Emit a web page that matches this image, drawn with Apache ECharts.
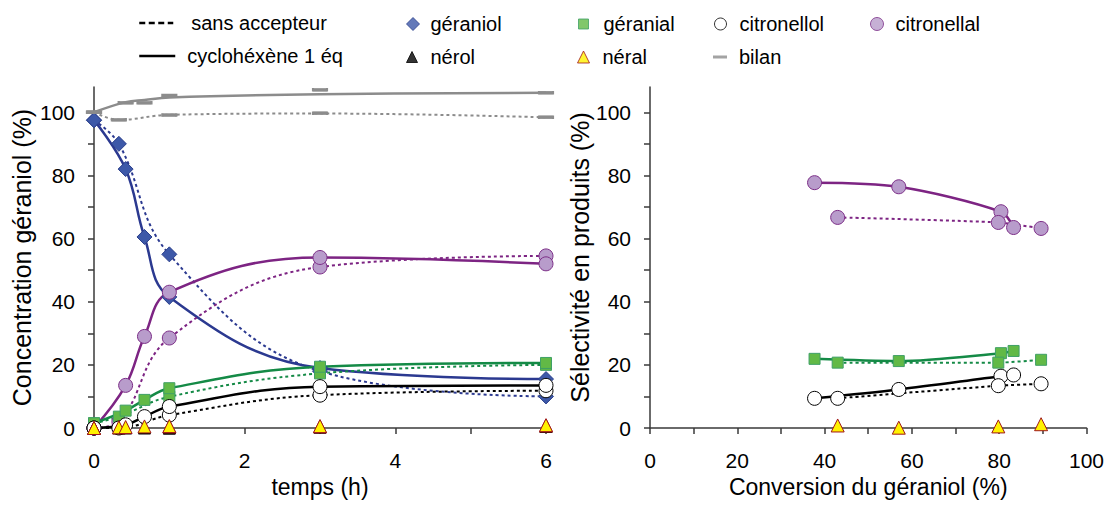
<!DOCTYPE html>
<html><head><meta charset="utf-8">
<script src="https://cdn.jsdelivr.net/npm/echarts@6/dist/echarts.min.js"></script>
<style>html,body{margin:0;padding:0;background:#fff}#c{width:1107px;height:507px}</style>
</head><body><div id="c"></div>
<script>
// ---------- Left panel: concentration vs time ----------
const timeSansAccepteur = [0, 0.33, 1, 3, 6];
const timeCyclohexene   = [0, 0.42, 0.67, 1, 3, 6];

const geraniolSA    = [97.5, 90, 55, 18, 10];
const geraniolCY    = [97.5, 82, 60.5, 41.5, 19, 15.5];
const citronellalSA = [0, 2, 28.5, 51, 54.5];
const citronellalCY = [0, 13.5, 29, 43, 54, 52];
const geranialSA    = [1.5, 3.6, 9.9, 17.3, 20];
const geranialCY    = [1.5, 5.5, 8.9, 12.6, 19.4, 20.6];
const citronellolSA = [0, 0, 4.1, 10.4, 11.8];
const citronellolCY = [0, 1, 3.6, 6.8, 13.1, 13.5];
const nerolSA       = [0, 0, 0, 0.3, 0.5];
const nerolCY       = [0, 0, 0, 0, 0.3, 0.5];
const neralSA       = [0, 0.2, 0.5, 0.5, 0.8];
const neralCY       = [0, 0.3, 0.5, 0.6, 0.6, 0.9];
const bilanSA       = [100, 97.6, 99.1, 99.7, 98.4];
const bilanCY       = [100, 103, 103, 105.3, 107.1, 106.2];
const bilanCurveSA  = [100, 97.6, 99.2, 99.6, 98.4];
const bilanCurveCY  = [100, 103.2, 103.9, 104.7, 105.7, 106.2];

// ---------- Right panel: selectivity vs conversion ----------
const convCY = [37.7, 57, 80.4, 83.3];
const convSA = [43, 79.8, 89.6];
const selCitronellalCY = [77.7, 76.4, 68.5, 63.5];
const selCitronellalSA = [66.7, 65.1, 63.2];
const selGeranialCY    = [21.9, 21.2, 23.7, 24.4];
const selGeranialSA    = [20.7, 20.7, 21.6];
const selCitronellolCY = [9.4, 12.2, 16.4, 16.8];
const selCitronellolSA = [9.4, 13.4, 14.0];
const selNeralCY       = [null, 0.1, null, null];
const selNeralSA       = [0.8, 0.5, 1.2];

// ---------- Tick values / labels ----------
const leftXTicks   = [0, 1, 2, 3, 4, 5, 6];
const leftXLabels  = [0, 2, 4, 6];
const yTicks       = [0, 10, 20, 30, 40, 50, 60, 70, 80, 90, 100];
const yLabels      = [0, 20, 40, 60, 80, 100];
const rightXTicks  = [0, 10, 20, 30, 40, 50, 60, 70, 80, 90, 100];
const rightXLabels = [0, 20, 40, 60, 80, 100];

// ---------- Styles ----------
const FONT = 'Liberation Sans';
const AX = '#3a3a3a';
const sty = {
  geraniol:    {line: '#2B3990', symbol: 'diamond',  size: 15, fill: '#3D58A8', border: '#2B3F8C'},
  citronellal: {line: '#7D2483', symbol: 'circle',   size: 14, fill: '#B89CCB', border: '#7D2F88'},
  geranial:    {line: '#148A46', symbol: 'rect',     size: 11, fill: '#62B946', border: '#3FA066'},
  citronellol: {line: '#000000', symbol: 'circle',   size: 14, fill: '#FFFFFF', border: '#000000'},
  nerol:       {line: '#000000', symbol: 'triangle', size: 12, fill: '#000000', border: '#000000'},
  neral:       {line: '#A0161B', symbol: 'triangle', size: 13, fill: '#FFF200', border: '#A0161B'},
  bilan:       {line: '#8C8C8C', symbol: 'rect',     size: [14, 3], fill: '#8C8C8C', border: '#8C8C8C'}
};

const pts = (xs, ys) => xs.map((x, i) => [x, ys[i]]).filter(p => p[1] !== null);

function lineS(name, gi, xs, ys, key, dotted, smooth) {
  return {
    name, type: 'line', xAxisIndex: gi, yAxisIndex: gi, data: pts(xs, ys),
    symbol: 'none', showSymbol: false, smooth: smooth, z: 2, silent: true,
    lineStyle: {color: sty[key].line, width: dotted ? 2 : 2.5, type: dotted ? [3, 3] : 'solid', cap: 'butt'}
  };
}
function markS(name, gi, xs, ys, key) {
  const s = sty[key];
  return {
    name, type: 'scatter', xAxisIndex: gi, yAxisIndex: gi, data: pts(xs, ys),
    symbol: s.symbol, symbolSize: s.size, z: 3, silent: true,
    itemStyle: {color: s.fill, borderColor: s.border, borderWidth: 1, opacity: 1}
  };
}
function dummyMark(name, key) {
  const s = sty[key];
  return {name, type: 'scatter', xAxisIndex: 0, yAxisIndex: 0, data: [], symbol: s.symbol,
          itemStyle: {color: s.fill, borderColor: s.border, borderWidth: 1}};
}

const series = [
  {name: 'sans accepteur', type: 'line', xAxisIndex: 0, yAxisIndex: 0, data: [], symbol: 'none',
   itemStyle: {color: 'rgba(0,0,0,0)', opacity: 0},
   lineStyle: {color: '#000', width: 2.5, type: [6, 3.5]}},
  {name: 'cyclohéxène 1 éq', type: 'line', xAxisIndex: 0, yAxisIndex: 0, data: [], symbol: 'none',
   itemStyle: {color: 'rgba(0,0,0,0)', opacity: 0},
   lineStyle: {color: '#000', width: 2.5, type: 'solid'}},
  dummyMark('géraniol', 'geraniol'), dummyMark('nérol', 'nerol'),
  dummyMark('géranial', 'geranial'), dummyMark('néral', 'neral'),
  dummyMark('citronellol', 'citronellol'), dummyMark('citronellal', 'citronellal'),
  {name: 'bilan', type: 'scatter', xAxisIndex: 0, yAxisIndex: 0, data: [], symbol: 'rect',
   itemStyle: {color: sty.bilan.fill}},

  // left lines
  lineS('bilan SA', 0, timeSansAccepteur, bilanCurveSA, 'bilan', true, 0.4),
  lineS('bilan CY', 0, timeCyclohexene, bilanCurveCY, 'bilan', false, 0.4),
  lineS('géraniol SA', 0, timeSansAccepteur, geraniolSA, 'geraniol', true, 0.4),
  lineS('géraniol CY', 0, timeCyclohexene, geraniolCY, 'geraniol', false, 0.4),
  lineS('citronellal SA', 0, timeSansAccepteur, citronellalSA, 'citronellal', true, 0.4),
  lineS('citronellal CY', 0, timeCyclohexene, citronellalCY, 'citronellal', false, 0.4),
  lineS('géranial SA', 0, timeSansAccepteur, geranialSA, 'geranial', true, 0.4),
  lineS('géranial CY', 0, timeCyclohexene, geranialCY, 'geranial', false, 0.4),
  lineS('citronellol SA', 0, timeSansAccepteur, citronellolSA, 'citronellol', true, 0.4),
  lineS('citronellol CY', 0, timeCyclohexene, citronellolCY, 'citronellol', false, 0.4),
  // left markers
  markS('géraniol SA m', 0, timeSansAccepteur, geraniolSA, 'geraniol'),
  markS('géraniol CY m', 0, timeCyclohexene, geraniolCY, 'geraniol'),
  markS('citronellal SA m', 0, timeSansAccepteur, citronellalSA, 'citronellal'),
  markS('citronellal CY m', 0, timeCyclohexene, citronellalCY, 'citronellal'),
  markS('géranial SA m', 0, timeSansAccepteur, geranialSA, 'geranial'),
  markS('géranial CY m', 0, timeCyclohexene, geranialCY, 'geranial'),
  markS('citronellol SA m', 0, timeSansAccepteur, citronellolSA, 'citronellol'),
  markS('citronellol CY m', 0, timeCyclohexene, citronellolCY, 'citronellol'),
  markS('nérol SA m', 0, timeSansAccepteur, nerolSA, 'nerol'),
  markS('nérol CY m', 0, timeCyclohexene, nerolCY, 'nerol'),
  markS('néral SA m', 0, timeSansAccepteur, neralSA, 'neral'),
  markS('néral CY m', 0, timeCyclohexene, neralCY, 'neral'),
  markS('bilan SA m', 0, timeSansAccepteur, bilanSA, 'bilan'),
  markS('bilan CY m', 0, timeCyclohexene, bilanCY, 'bilan'),

  // right lines
  lineS('sel citronellal CY', 1, convCY, selCitronellalCY, 'citronellal', false, 0.3),
  lineS('sel citronellal SA', 1, convSA, selCitronellalSA, 'citronellal', true, 0.2),
  lineS('sel géranial CY', 1, convCY, selGeranialCY, 'geranial', false, 0.3),
  lineS('sel géranial SA', 1, convSA, selGeranialSA, 'geranial', true, 0.2),
  lineS('sel citronellol CY', 1, convCY, selCitronellolCY, 'citronellol', false, 0.3),
  lineS('sel citronellol SA', 1, convSA, selCitronellolSA, 'citronellol', true, 0.2),
  // right markers
  markS('sel citronellal CY m', 1, convCY, selCitronellalCY, 'citronellal'),
  markS('sel citronellal SA m', 1, convSA, selCitronellalSA, 'citronellal'),
  markS('sel géranial CY m', 1, convCY, selGeranialCY, 'geranial'),
  markS('sel géranial SA m', 1, convSA, selGeranialSA, 'geranial'),
  markS('sel citronellol CY m', 1, convCY, selCitronellolCY, 'citronellol'),
  markS('sel citronellol SA m', 1, convSA, selCitronellolSA, 'citronellol'),
  markS('sel néral CY m', 1, convCY, selNeralCY, 'neral'),
  markS('sel néral SA m', 1, convSA, selNeralSA, 'neral')
];

// ---------- Legend layout (one legend component per entry) ----------
const legendLayout = [
  {name: 'sans accepteur',   left: 138, cy: 23, w: 34, h: 14, textX: 190, lineOnly: true},
  {name: 'cyclohéxène 1 éq', left: 138, cy: 56, w: 36, h: 14, textX: 186, lineOnly: true},
  {name: 'géraniol',    icon: 'diamond',  left: 406, cy: 24, w: 13, h: 13, textX: 430},
  {name: 'nérol',       icon: 'triangle', left: 406, cy: 57, w: 11, h: 11, textX: 430},
  {name: 'géranial',    icon: 'rect',     left: 578, cy: 24, w: 10, h: 10, textX: 603},
  {name: 'néral',       icon: 'triangle', left: 577, cy: 57, w: 12, h: 12, textX: 602},
  {name: 'citronellol', icon: 'circle',   left: 714, cy: 24, w: 12, h: 12, textX: 739},
  {name: 'bilan',       icon: 'rect',     left: 713, cy: 57, w: 14, h: 3,  textX: 739},
  {name: 'citronellal', icon: 'circle',   left: 870, cy: 24, w: 13, h: 13, textX: 895}
];
const legends = legendLayout.map(l => ({
  left: l.left, top: l.cy - 10, padding: 0, itemGap: 0, selectedMode: false,
  itemWidth: l.w, itemHeight: l.h,
  lineStyle: {width: 2.5},
  itemStyle: l.lineOnly ? {color: 'rgba(0,0,0,0)', borderColor: 'rgba(0,0,0,0)', borderWidth: 0, opacity: 0}
                        : {borderWidth: 1},
  textStyle: {fontFamily: FONT, fontSize: 20, color: '#000', lineHeight: 20,
              padding: [0, 0, 0, Math.max(0, l.textX - l.left - l.w - 5)]},
  data: [l.icon ? {name: l.name, icon: l.icon} : {name: l.name}]
}));

function valueAxis(gi, min, max, ticks, labels, extra) {
  return Object.assign({
    gridIndex: gi, type: 'value', min, max,
    axisLine: {show: true, onZero: false, lineStyle: {color: AX, width: 1.5}},
    axisTick: {show: true, customValues: ticks, length: 6, lineStyle: {color: AX, width: 1.5}},
    axisLabel: {customValues: labels, fontFamily: FONT, fontSize: 21, color: '#000'},
    splitLine: {show: false},
    nameLocation: 'middle',
    nameTextStyle: {fontFamily: FONT, fontSize: 23, color: '#000'}
  }, extra);
}

const option = {
  animation: false,
  backgroundColor: '#fff',
  grid: [
    {left: 94, top: 87, width: 452, height: 341},
    {left: 650, top: 87, width: 439, height: 341}
  ],
  xAxis: [
    valueAxis(0, 0, 6, leftXTicks, leftXLabels, {name: 'temps (h)', nameGap: 47}),
    valueAxis(1, 0, 100, rightXTicks, rightXLabels, {name: 'Conversion du géraniol (%)', nameGap: 47})
  ],
  yAxis: [
    valueAxis(0, 0, 108, yTicks, yLabels, {name: 'Concentration géraniol (%)', nameGap: 60}),
    valueAxis(1, 0, 108, yTicks, yLabels, {name: 'Sélectivité en produits (%)', nameGap: 58})
  ],
  legend: legends,
  series
};
option.xAxis.forEach(a => { a.axisLabel.margin = 22; });
option.yAxis.forEach(a => { a.axisLabel.margin = 19; a.nameTextStyle.fontSize = 25; });

const chart = echarts.init(document.getElementById('c'), null, {renderer: 'svg'});
chart.setOption(option);
</script>
</body></html>
